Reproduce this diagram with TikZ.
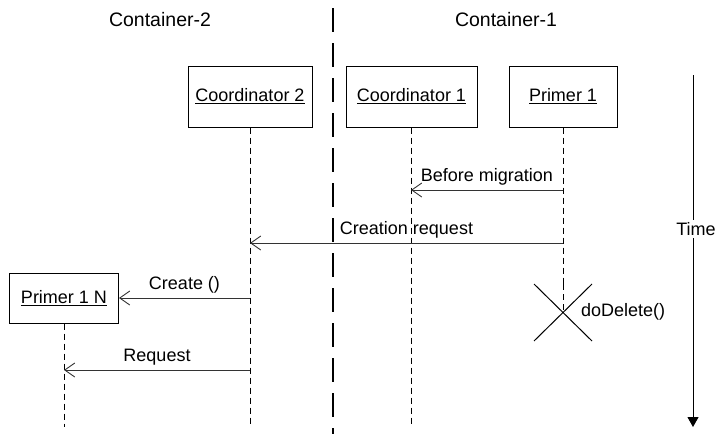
\documentclass[tikz,border=0pt]{standalone}
\usepackage{fontspec}
\setmainfont{Liberation Sans}
\usetikzlibrary{arrows.meta}
\begin{document}
\begin{tikzpicture}[x=1pt,y=-1pt,
  every node/.style={font=\fontsize{18}{21}\selectfont, inner sep=0pt},
  header/.style={font=\fontsize{19.5}{23}\selectfont},
  obj/.style={draw, line width=1pt, minimum height=61pt, fill=white},
  life/.style={line width=0.9pt, dash pattern=on 6pt off 4pt},
  msg/.style={line width=0.9pt, draw=black!80, -{Straight Barb[length=10pt,width=14pt,line width=0.9pt]}},
  lbl/.style={above=4pt},
  divider/.style={line width=1.5pt, dash pattern=on 24pt off 11pt}]
\useasboundingbox (0,0) rectangle (717,434);
% headers and divider
\node[header] (h2) at (160,20) {Container-2};
\node[header] (h1) at (506,20) {Container-1};
\coordinate (dtop) at (333,8);
\coordinate (dbot) at (333,434);
\draw[divider] (dtop) -- (dbot);
% objects
\node[obj, minimum width=124pt] (c2) at (250,96.5) {\underline{Coordinator 2}};
\node[obj, minimum width=131pt] (c1) at (411.5,96.5) {\underline{Coordinator 1}};
\node[obj, minimum width=108pt] (p1) at (563,96.5) {\underline{Primer 1}};
\node[obj, minimum width=109pt, minimum height=50pt] (pn) at (64,298) {\underline{Primer 1 N}};
% lifeline ends
\coordinate (c2e) at (250,427);
\coordinate (c1e) at (411,427);
\coordinate (p1e) at (563,284);
\coordinate (pne) at (64,427);
\draw[life] (c2.south) -- (c2e);
\draw[life] ([xshift=-0.5pt]c1.south) -- (c1e);
\draw[life] (p1.south) -- (p1e);
\coordinate (p1x) at (563,312.5);
\draw[life] (p1e) -- (p1x);
\draw[life] (pn.south) -- (pne);
% message points
\coordinate (m1s) at (563,190); \coordinate (m1e) at (411,190);
\coordinate (m2s) at (563,243); \coordinate (m2e) at (250,243);
\coordinate (m3s) at (250,298);
\coordinate (m4s) at (250,370); \coordinate (m4e) at (64,370);
\draw[msg] (m1s) -- node[lbl] (l1) {Before migration} (m1e);
\draw[msg] (m2s) -- node[lbl] (l2) {Creation request} (m2e);
\draw[msg] (m3s) -- node[lbl] (l3) {Create ()} (pn.east);
\draw[msg] (m4s) -- node[lbl] (l4) {Request} (m4e);
% destruction
\coordinate (x1) at (534,284); \coordinate (x2) at (592,341);
\coordinate (x3) at (592,284); \coordinate (x4) at (534,341);
\draw[line width=1pt] (x1) -- (x2) (x3) -- (x4);
\node[anchor=west] (dd) at (581,312) {doDelete()};
% time axis
\coordinate (ttop) at (693,75);
\coordinate (tbot) at (693,427);
\draw[line width=1pt, -{Triangle[length=10pt,width=11pt]}] (ttop) -- (tbot);
\node[fill=white, inner sep=2pt] (time) at (696,229) {Time};
\end{tikzpicture}
\end{document}
